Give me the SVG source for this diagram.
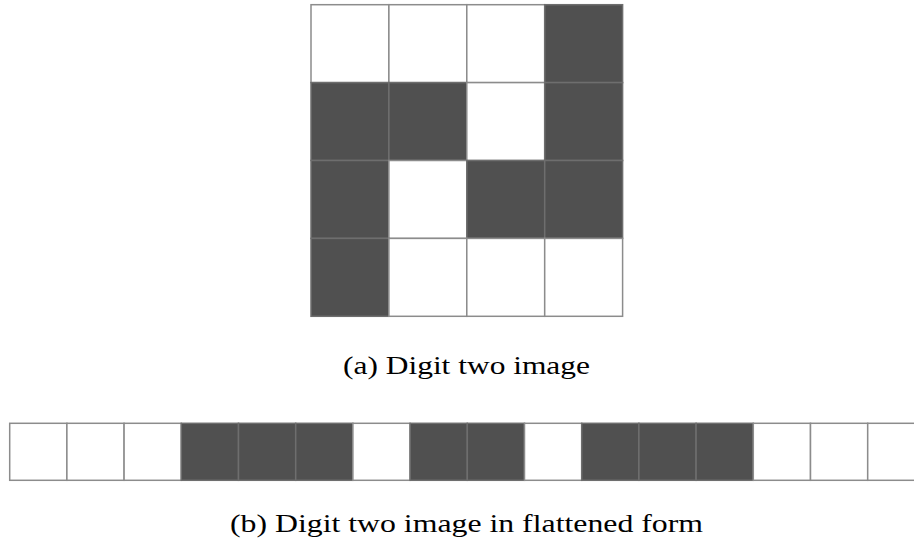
<svg xmlns="http://www.w3.org/2000/svg" width="914" height="544" viewBox="0 0 914 544">
<style>
.w{fill:#ffffff;stroke:#8c8c8c;stroke-width:1.5}
.d{fill:#505050;stroke:#6e6e6e;stroke-width:1.5}
.cap{font-family:"Liberation Serif","DejaVu Serif",serif;font-size:26px;fill:#000;text-anchor:middle}
</style>
<rect width="914" height="544" fill="#ffffff"/>
<g id="grid">
<rect class="w" x="311" y="4.7" width="77.9" height="77.9"/>
<rect class="w" x="388.9" y="4.7" width="77.9" height="77.9"/>
<rect class="w" x="466.8" y="4.7" width="77.9" height="77.9"/>
<rect class="d" x="544.7" y="4.7" width="77.9" height="77.9"/>
<rect class="d" x="311" y="82.6" width="77.9" height="77.9"/>
<rect class="d" x="388.9" y="82.6" width="77.9" height="77.9"/>
<rect class="w" x="466.8" y="82.6" width="77.9" height="77.9"/>
<rect class="d" x="544.7" y="82.6" width="77.9" height="77.9"/>
<rect class="d" x="311" y="160.5" width="77.9" height="77.9"/>
<rect class="w" x="388.9" y="160.5" width="77.9" height="77.9"/>
<rect class="d" x="466.8" y="160.5" width="77.9" height="77.9"/>
<rect class="d" x="544.7" y="160.5" width="77.9" height="77.9"/>
<rect class="d" x="311" y="238.4" width="77.9" height="77.9"/>
<rect class="w" x="388.9" y="238.4" width="77.9" height="77.9"/>
<rect class="w" x="466.8" y="238.4" width="77.9" height="77.9"/>
<rect class="w" x="544.7" y="238.4" width="77.9" height="77.9"/>
</g>
<text id="caption-a" class="cap" x="466.5" y="373.5" textLength="247" lengthAdjust="spacingAndGlyphs">(a) Digit two image</text>
<g id="flat">
<rect class="w" x="9.7" y="423.3" width="57.2" height="57"/>
<rect class="w" x="66.9" y="423.3" width="57.2" height="57"/>
<rect class="w" x="124.1" y="423.3" width="57.2" height="57"/>
<rect class="d" x="181.3" y="423.3" width="57.2" height="57"/>
<rect class="d" x="238.5" y="423.3" width="57.2" height="57"/>
<rect class="d" x="295.7" y="423.3" width="57.2" height="57"/>
<rect class="w" x="352.9" y="423.3" width="57.2" height="57"/>
<rect class="d" x="410.1" y="423.3" width="57.2" height="57"/>
<rect class="d" x="467.3" y="423.3" width="57.2" height="57"/>
<rect class="w" x="524.5" y="423.3" width="57.2" height="57"/>
<rect class="d" x="581.7" y="423.3" width="57.2" height="57"/>
<rect class="d" x="638.9" y="423.3" width="57.2" height="57"/>
<rect class="d" x="696.1" y="423.3" width="57.2" height="57"/>
<rect class="w" x="753.3" y="423.3" width="57.2" height="57"/>
<rect class="w" x="810.5" y="423.3" width="57.2" height="57"/>
<rect class="w" x="867.7" y="423.3" width="57.2" height="57"/>
</g>
<text id="caption-b" class="cap" x="466.5" y="531.5" textLength="473" lengthAdjust="spacingAndGlyphs">(b) Digit two image in flattened form</text>
</svg>
